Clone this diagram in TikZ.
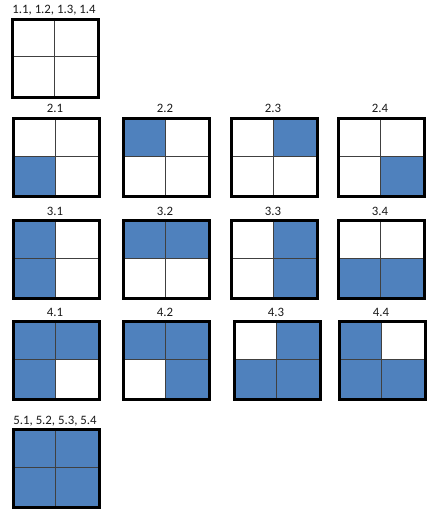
\documentclass[tikz,border=0pt]{standalone}
\usepackage{fontspec}
\setmainfont{Carlito}
\definecolor{cellblue}{HTML}{4F81BD}
\definecolor{gridline}{HTML}{404040}
\tikzset{
  outerbox/.style={draw=black, line width=2.6pt, inner sep=0pt, fill=none},
  innerline/.style={draw=gridline, line width=1pt},
  panellabel/.style={font=\fontsize{12.8}{14}\selectfont, anchor=base, inner sep=0pt, text=black!90}
}
% #1 name, #2 left x, #3 top y, #4 label, #5 TL, #6 TR, #7 BL, #8 BR
\newcommand\panelgrid[8]{%
  \ifnum#5=1 \fill[cellblue] (#2,#3) rectangle ({#2+43},{#3+39});\fi
  \ifnum#6=1 \fill[cellblue] ({#2+43},#3) rectangle ({#2+86},{#3+39});\fi
  \ifnum#7=1 \fill[cellblue] (#2,{#3+39}) rectangle ({#2+43},{#3+78});\fi
  \ifnum#8=1 \fill[cellblue] ({#2+43},{#3+39}) rectangle ({#2+86},{#3+78});\fi
  \draw[innerline] ({#2+43},#3) -- ({#2+43},{#3+78});
  \draw[innerline] (#2,{#3+39}) -- ({#2+86},{#3+39});
  \node[outerbox, minimum width=86pt, minimum height=78pt, anchor=north west] (#1) at (#2,#3) {};
  \node[panellabel] (#1-label) at ({#2+43},{#3-4}) {#4};
}
\begin{document}
\begin{tikzpicture}[x=1pt,y=-1pt]
\useasboundingbox[fill=white] (0,0) rectangle (435,513);
\panelgrid{p1}{11}{18}{1.1, 1.2, 1.3, 1.4}{0}{0}{0}{0}
\panelgrid{p21}{12}{117}{2.1}{0}{0}{1}{0}
\panelgrid{p22}{122}{117}{2.2}{1}{0}{0}{0}
\panelgrid{p23}{230}{117}{2.3}{0}{1}{0}{0}
\panelgrid{p24}{337}{117}{2.4}{0}{0}{0}{1}
\panelgrid{p31}{12}{219}{3.1}{1}{0}{1}{0}
\panelgrid{p32}{122}{219}{3.2}{1}{1}{0}{0}
\panelgrid{p33}{230}{219}{3.3}{0}{1}{0}{1}
\panelgrid{p34}{337}{219}{3.4}{0}{0}{1}{1}
\panelgrid{p41}{12}{320}{4.1}{1}{1}{1}{0}
\panelgrid{p42}{122}{320}{4.2}{1}{1}{0}{1}
\panelgrid{p43}{233}{320}{4.3}{0}{1}{1}{1}
\panelgrid{p44}{338}{320}{4.4}{1}{0}{1}{1}
\panelgrid{p5}{12}{428}{5.1, 5.2, 5.3, 5.4}{1}{1}{1}{1}
\end{tikzpicture}
\end{document}
